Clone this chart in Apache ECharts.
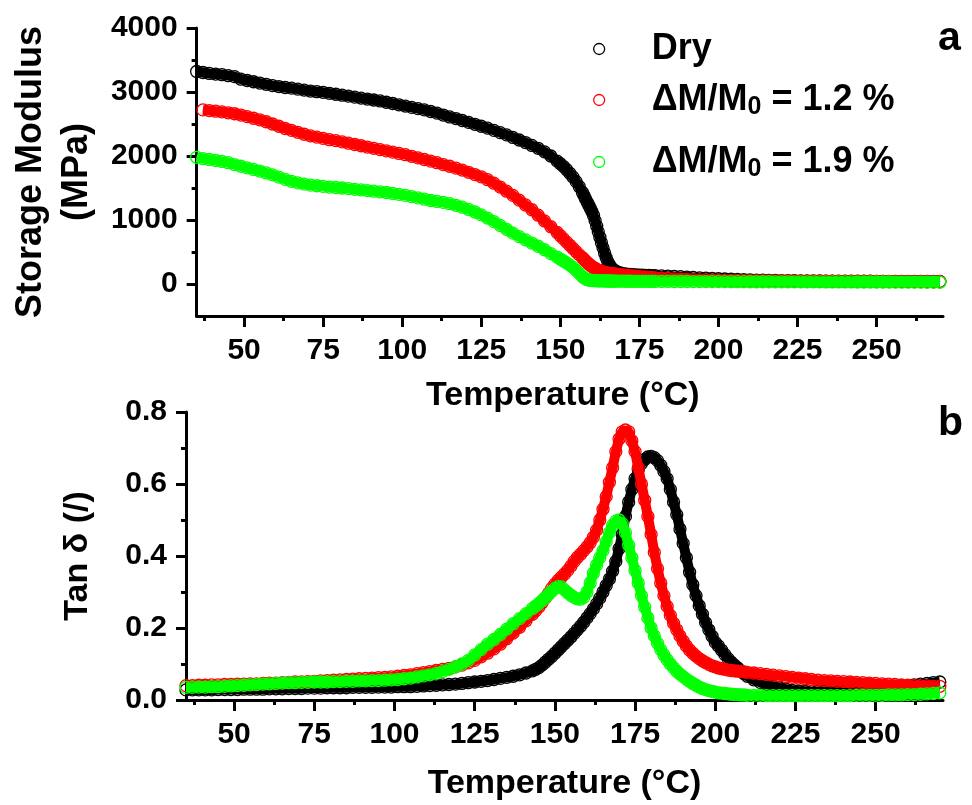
<!DOCTYPE html>
<html>
<head>
<meta charset="utf-8">
<script src="https://cdn.jsdelivr.net/npm/echarts@6/dist/echarts.min.js"></script>
<style>
html,body{margin:0;padding:0;background:#fff;}
#chart{width:972px;height:805px;}
</style>
</head>
<body>
<div id="chart"></div>
<script>
// ---------- DATA ----------
const seriesNames = ['Dry', 'ΔM/M0 = 1.2 %', 'ΔM/M0 = 1.9 %'];
const seriesColors = ['#000000', '#ff0000', '#00ff00'];
const panelLetters = ['a', 'b'];

const xTickLabels = [50, 75, 100, 125, 150, 175, 200, 225, 250];
const xMinorTicks = [37.5, 62.5, 87.5, 112.5, 137.5, 162.5, 187.5, 212.5, 237.5, 262.5];
const modulusTicks = [0, 1000, 2000, 3000, 4000];
const modulusMinorTicks = [500, 1500, 2500, 3500];

// Panel a: storage modulus (MPa) vs temperature (°C)
const topTemp = [35,37,39,41,43,45,47,49,51,53,55,57,59,61,63,65,67,69,71,73,75,77,79,81,83,85,87,89,91,93,95,97,99,101,103,105,107,109,111,113,115,117,119,121,123,125,127,129,131,133,135,137,139,141,143,145,147,149,
150,151,152,153,154,155,156,157,
157.5,158,158.5,159,159.5,160,160.5,161,161.5,162,162.5,163,163.5,164,164.5,165,165.5,166,166.5,167,167.5,168,
169,170,171,172,173,174,175,176,177,178,179,180,
182,184,186,188,190,192,194,196,198,200,202,204,206,208,210,212,214,216,218,220,222,224,226,228,230,232,234,236,238,240,242,244,246,248,250,252,254,256,258,260,262,264,266,268,270];

const dryModulus = [3320,3305,3290,3280,3270,3255,3240,3200,3180,3160,3140,3120,3100,3085,3070,3060,3045,3030,3015,3005,2995,2980,2965,2950,2935,2920,2905,2890,2875,2860,2840,2820,2800,2780,2760,2740,2720,2695,2670,2640,2610,2585,2555,2525,2495,2465,2435,2400,2365,2330,2290,2250,2210,2165,2120,2065,2000,1920,
1880,1835,1785,1730,1670,1600,1520,1430,
1380,1330,1280,1230,1180,1130,1070,990,905,815,730,645,565,485,410,350,300,262,235,215,200,188,
172,162,155,150,146,143,140,137,135,133,131,129,
126,122,118,114,108,102,96,91,86,82,78,74,70,67,64,61,59,57,55,53,52,51,50,49,48,47,46,46,45,45,44,44,43,43,42,42,41,41,41,40,40,40,39,39,39];

const wet12Modulus = [null,2720,2710,2700,2690,2675,2660,2640,2615,2590,2565,2535,2500,2465,2430,2400,2370,2340,2315,2295,2275,2255,2240,2220,2200,2180,2160,2140,2120,2100,2080,2060,2040,2020,1995,1970,1945,1920,1895,1865,1840,1810,1780,1745,1710,1675,1630,1575,1515,1450,1385,1310,1235,1160,1075,985,895,805,
755,705,655,605,555,505,455,410,
385,360,335,312,292,273,257,242,229,217,206,197,189,182,176,171,167,163,160,157,154,151,
146,141,136,131,126,121,116,111,107,103,99,96,
91,86,81,77,73,69,66,63,61,59,57,56,55,54,53,52,51,50,49,48,47,46,45,45,44,44,43,43,42,42,41,41,40,40,39,39,38,38,37,37,36,36,35,35,35];

const wet19Modulus = [1980,1960,1945,1930,1915,1895,1865,1840,1815,1790,1765,1735,1705,1670,1635,1605,1580,1560,1545,1535,1525,1515,1508,1500,1490,1480,1470,1460,1450,1440,1430,1415,1400,1385,1365,1345,1325,1305,1290,1275,1255,1230,1200,1165,1125,1080,1030,975,915,855,795,740,690,640,590,535,475,420,
390,360,330,295,260,215,165,115,
95,80,70,63,58,55,53,52,51,50,50,49,49,48,48,47,47,46,46,45,45,45,
44,44,43,43,42,42,42,41,41,41,40,40,
40,40,39,39,39,38,38,38,37,37,37,36,36,36,35,35,35,35,34,34,34,34,33,33,33,33,32,32,32,32,32,31,31,31,31,31,31,30,30,30,30,30,30,30,30];

// Panel b: tan delta vs temperature (°C)
const botTemp = [35,37,39,41,43,45,47,49,51,53,55,57,59,61,63,65,67,69,71,73,75,77,79,81,83,85,87,89,91,93,95,97,99,101,103,105,107,109,111,113,115,117,119,121,123,125,127,129,131,133,135,137,139,141,143,
144,145,146,147,148,149,150,151,152,153,154,155,156,157,158,159,160,161,162,163,164,165,166,167,168,169,170,171,172,173,174,175,176,177,178,179,180,181,182,183,184,185,186,187,188,189,190,191,192,193,194,195,196,197,198,199,200,201,202,203,204,205,206,207,208,209,210,
212,214,216,218,220,222,224,226,228,230,232,234,236,238,240,242,244,246,248,250,252,254,256,258,260,262,264,266,268,270];

const dryTan = [.028,.028,.028,.028,.028,.029,.029,.029,.029,.030,.030,.030,.030,.031,.031,.031,.032,.032,.032,.033,.033,.033,.034,.034,.034,.034,.035,.035,.035,.035,.036,.036,.036,.037,.037,.037,.038,.039,.040,.041,.042,.043,.044,.046,.048,.050,.052,.054,.057,.060,.063,.066,.070,.075,.081,
.085,.090,.097,.105,.113,.121,.130,.139,.148,.157,.166,.175,.185,.195,.205,.216,.228,.240,.253,.267,.283,.300,.318,.336,.358,.385,.42,.46,.51,.55,.585,.615,.64,.657,.668,.675,.677,.673,.665,.652,.635,.615,.585,.55,.515,.475,.435,.395,.355,.32,.29,.262,.238,.215,.195,.177,.16,.15,.138,.126,.115,.105,.097,.089,.081,.073,.066,
.056,.049,.043,.038,.034,.030,.027,.025,.024,.023,.023,.024,.025,.026,.027,.029,.030,.032,.034,.035,.036,.037,.038,.039,.040,.042,.044,.046,.048,.050];

const wet12Tan = [.040,.040,.041,.041,.042,.042,.043,.043,.044,.044,.045,.045,.046,.047,.047,.048,.049,.050,.050,.051,.052,.053,.054,.055,.056,.057,.058,.059,.060,.061,.062,.063,.064,.066,.068,.070,.073,.076,.079,.082,.085,.088,.092,.097,.103,.11,.12,.13,.142,.155,.17,.186,.202,.22,.238,
.248,.258,.27,.283,.296,.31,.322,.332,.341,.35,.36,.372,.385,.396,.405,.415,.425,.437,.452,.472,.50,.53,.565,.605,.645,.69,.725,.745,.75,.745,.72,.69,.645,.60,.555,.51,.46,.41,.365,.325,.29,.26,.235,.213,.195,.178,.163,.15,.139,.13,.122,.115,.109,.104,.099,.095,.092,.089,.087,.085,.083,.082,.081,.080,.079,.078,.077,
.075,.073,.071,.069,.067,.065,.063,.061,.059,.057,.055,.054,.053,.052,.051,.050,.049,.048,.047,.046,.045,.044,.043,.042,.041,.040,.039,.039,.038,.038];

const wet19Tan = [.035,.035,.036,.036,.037,.037,.038,.039,.040,.041,.042,.043,.044,.045,.046,.047,.048,.048,.049,.049,.050,.050,.050,.051,.051,.052,.052,.053,.053,.054,.054,.055,.056,.057,.059,.061,.064,.067,.070,.074,.079,.085,.092,.10,.11,.125,.14,.155,.168,.182,.197,.212,.226,.24,.254,
.261,.268,.276,.284,.293,.302,.31,.315,.314,.306,.298,.291,.285,.281,.28,.285,.30,.325,.352,.375,.395,.415,.44,.465,.485,.497,.50,.49,.465,.43,.395,.36,.325,.29,.258,.228,.20,.178,.158,.14,.125,.112,.10,.09,.08,.072,.065,.058,.052,.046,.041,.036,.032,.029,.026,.024,.022,.02,.019,.018,.017,.016,.015,.015,.014,.014,.013,
.013,.013,.012,.012,.012,.012,.012,.012,.012,.012,.012,.012,.012,.012,.012,.012,.013,.013,.013,.013,.013,.014,.014,.014,.015,.015,.016,.017,.018,.02];

// ---------- CHART ----------
[[topTemp,dryModulus],[topTemp,wet12Modulus],[topTemp,wet19Modulus],[botTemp,dryTan],[botTemp,wet12Tan],[botTemp,wet19Tan]].forEach(function(p,i){
  if (p[0].length !== p[1].length) console.error('length mismatch', i, p[0].length, p[1].length);
});

function pairs(xs, ys) {
  const out = [];
  for (let i = 0; i < xs.length; i++) if (ys[i] != null) out.push([xs[i], ys[i]]);
  return out;
}

const FONT = '"Liberation Sans", Arial, Helvetica, sans-serif';
const black = '#000';

function mainX(gridIndex, gap, shift) {
  return {
    gridIndex: gridIndex, type: 'value', min: 35, max: 271,
    axisLine: { show: true, onZero: false, lineStyle: { color: black, width: 3 } },
    axisTick: { show: true, customValues: xTickLabels, length: 11, lineStyle: { color: black, width: 3 } },
    axisLabel: { customValues: xTickLabels, margin: 20, fontSize: 30, fontWeight: 'bold', fontFamily: FONT, color: black },
    splitLine: { show: false },
    name: 'Temperature (°C)', nameLocation: 'middle', nameGap: gap,
    nameTextStyle: { fontSize: 34, lineHeight: 34, fontWeight: 'bold', fontFamily: FONT, color: black, padding: [0, shift, 0, 0] }
  };
}
function minorX(gridIndex) {
  return {
    gridIndex: gridIndex, type: 'value', min: 35, max: 271, position: 'bottom', offset: 0,
    axisLine: { show: false, onZero: false },
    axisTick: { show: true, customValues: xMinorTicks, length: 5, lineStyle: { color: black, width: 3 } },
    axisLabel: { show: false }, splitLine: { show: false }
  };
}

const rich = {
  n: { fontSize: 36, fontWeight: 'bold', fontFamily: FONT, color: black, lineHeight: 40 },
  s: { fontSize: 25, fontWeight: 'bold', fontFamily: FONT, color: black, lineHeight: 12, verticalAlign: 'bottom' }
};
function legendLabel(name) {
  const m = name.match(/^(ΔM\/M)0(.*)$/);
  if (m) return '{n|' + m[1] + '}{s|0}{n|' + m[2] + '}';
  return '{n|' + name + '}';
}
const legendTops = [29, 80, 142];

const series = [];
const topVals = [dryModulus, wet12Modulus, wet19Modulus];
const botVals = [dryTan, wet12Tan, wet19Tan];
for (let k = 0; k < 3; k++) {
  const base = {
    type: 'line', name: seriesNames[k], symbol: 'circle', symbolSize: 12,
    showSymbol: true, showAllSymbol: true,
    itemStyle: { color: 'rgba(0,0,0,0)', borderColor: seriesColors[k], borderWidth: 1.3 },
    lineStyle: { color: seriesColors[k], width: 10 },
    emphasis: { disabled: true }, animation: false, z: 2 + k
  };
  series.push(Object.assign({}, base, { xAxisIndex: 0, yAxisIndex: 0, data: pairs(topTemp, topVals[k]) }));
  series.push(Object.assign({}, base, { xAxisIndex: 2, yAxisIndex: 2, data: pairs(botTemp, botVals[k]) }));
}

const option = {
  animation: false,
  backgroundColor: '#fff',
  grid: [
    { left: 186, top: 28, width: 757, height: 288 },
    { left: 186, top: 412, width: 757, height: 288 }
  ],
  xAxis: [mainX(0, 63, 14), minorX(0), mainX(1, 67, 0), minorX(1)],
  yAxis: [
    {
      gridIndex: 0, type: 'value', min: -500, max: 4000,
      axisLine: { show: true, onZero: false, lineStyle: { color: black, width: 3 } },
      axisTick: { show: true, customValues: modulusTicks, length: 10, lineStyle: { color: black, width: 3 } },
      axisLabel: { customValues: modulusTicks, margin: 19, fontSize: 30, fontWeight: 'bold', fontFamily: FONT, color: black,
                   formatter: function (v) { return String(v); } },
      splitLine: { show: false },
      name: 'Storage Modulus\n(MPa)', nameLocation: 'middle', nameGap: 87, nameRotate: 90,
      nameTextStyle: { fontSize: 36, lineHeight: 46, fontWeight: 'bold', fontFamily: FONT, color: black }
    },
    {
      gridIndex: 0, type: 'value', min: -500, max: 4000, position: 'left', offset: 0,
      axisLine: { show: false, onZero: false },
      axisTick: { show: true, customValues: modulusMinorTicks, length: 5, lineStyle: { color: black, width: 3 } },
      axisLabel: { show: false }, splitLine: { show: false }
    },
    {
      gridIndex: 1, type: 'value', min: 0, max: 0.8, interval: 0.2,
      axisLine: { show: true, onZero: false, lineStyle: { color: black, width: 3 } },
      axisTick: { show: true, length: 10, lineStyle: { color: black, width: 3 } },
      minorTick: { show: true, splitNumber: 2, length: 5, lineStyle: { color: black, width: 3 } },
      axisLabel: { margin: 19, fontSize: 30, fontWeight: 'bold', fontFamily: FONT, color: black,
                   formatter: function (v) { return v.toFixed(1); } },
      splitLine: { show: false }, minorSplitLine: { show: false },
      name: 'Tan δ (/)', nameLocation: 'middle', nameGap: 88, nameRotate: 90,
      nameTextStyle: { fontSize: 34, lineHeight: 40, fontWeight: 'bold', fontFamily: FONT, color: black }
    }
  ],
  legend: seriesNames.map(function (n, i) {
    return {
      data: [n], left: 593, top: legendTops[i], orient: 'vertical', padding: 0,
      itemWidth: 11, itemHeight: 11, selectedMode: false, icon: 'circle',
      itemStyle: { color: 'rgba(0,0,0,0)', borderColor: seriesColors[i], borderWidth: 1.3 },
      lineStyle: { width: 0 },
      formatter: legendLabel,
      textStyle: { fontSize: 36, fontWeight: 'bold', fontFamily: FONT, color: black, lineHeight: 40,
                   padding: [0, 0, 0, 42], rich: rich }
    };
  }),
  graphic: [
    { type: 'text', left: 938, top: 18, style: { text: panelLetters[0], font: 'bold 41px ' + FONT, fill: black } },
    { type: 'text', left: 938, top: 403, style: { text: panelLetters[1], font: 'bold 41px ' + FONT, fill: black } }
  ],
  series: series
};

const chart = echarts.init(document.getElementById('chart'), null, { renderer: 'canvas' });
chart.setOption(option);
</script>
</body>
</html>
